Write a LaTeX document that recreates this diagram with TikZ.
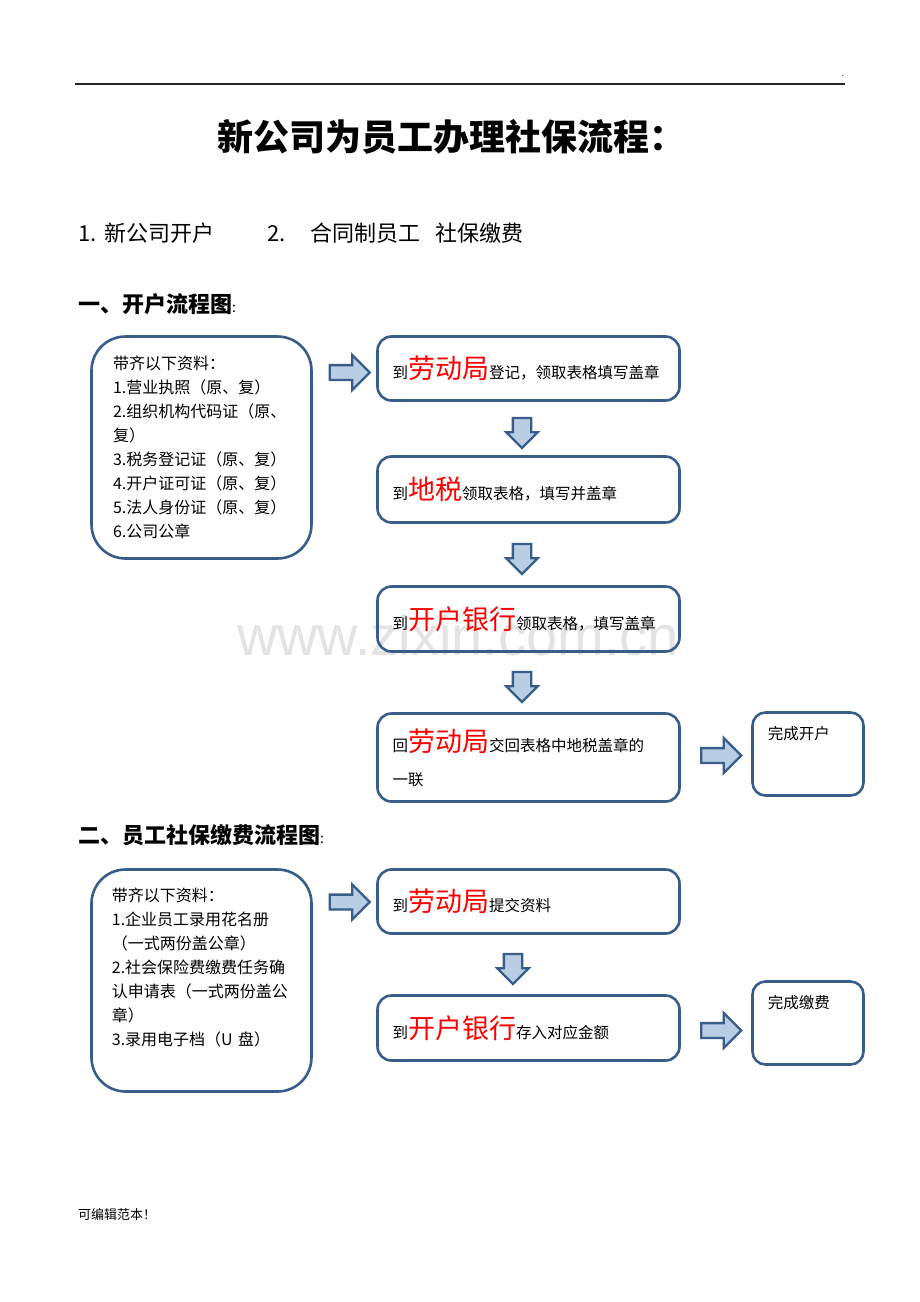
\documentclass[tikz,border=0pt]{standalone}
\usepackage{fontspec}
\setmainfont{Noto Sans CJK SC}
\newfontfamily\wmfont{Liberation Sans}
\usepackage{tikz}
\usetikzlibrary{positioning, shapes.arrows, calc}
\definecolor{boxblue}{HTML}{385D8A}
\definecolor{arrowfill}{HTML}{B9CDE5}
\newcommand{\Red}[1]{{\fontsize{27}{30}\selectfont\color{red}#1}}

\begin{document}
\begin{tikzpicture}[x=1pt, y=-1pt,
	flowbox/.style={draw=boxblue, line width=2.6pt, rounded corners=14pt, minimum width=302pt, minimum height=64pt, text width=272pt, align=left, inner sep=0pt, font=\fontsize{15.5}{34}\selectfont},
	matbox/.style={draw=boxblue, line width=2.6pt, rounded corners=34pt, minimum width=220pt, minimum height=222pt, inner sep=0pt},
	donebox/.style={draw=boxblue, line width=2.6pt, rounded corners=13pt, minimum width=111pt, minimum height=83pt, inner sep=0pt},
	mattext/.style={text width=177pt, align=left, inner sep=0pt, font=\fontsize{16}{24}\selectfont},
	rarrow/.style={single arrow, draw=boxblue, fill=arrowfill, line width=2.3pt, inner sep=6.25pt, single arrow head extend=10pt, minimum height=40pt},
	darrow/.style={single arrow, shape border rotate=270, draw=boxblue, fill=arrowfill, line width=2.3pt, inner sep=8pt, single arrow head extend=6.75pt, minimum height=30pt}]
	
	% Page
	\fill[white] (0,0) rectangle (920,1302);
	\useasboundingbox (0,0) rectangle (920,1302);
	
	% Watermark
	\node[text=black!11, font=\wmfont\fontsize{56}{60}\selectfont] (wm) at (458,635) {www.zixin.com.cn};
	
	% Header
	\draw[line width=1.4pt, black!85] (75,84) -- (845,84);
	\node[font=\fontsize{8}{8}\selectfont, inner sep=0pt] (dot) at (843,76) {.};
	\node[font=\fontsize{36}{40}\selectfont\bfseries] (title) at (451,137) {新公司为员工办理社保流程：};
	\node[anchor=west, inner sep=0pt, font=\fontsize{22}{26}\selectfont] (item1) at (78,233) {1.\hspace{8pt}新公司开户};
	\node[anchor=west, inner sep=0pt, font=\fontsize{22}{26}\selectfont] (item2) at (267,233) {2.\hspace{25pt}合同制员工\hspace{15pt}社保缴费};
	
	% Part one
	\node[anchor=west, inner sep=0pt, font=\fontsize{22}{26}\selectfont\bfseries] (sec1) at (78,304) {一、开户流程图{\mdseries\fontsize{14}{14}\selectfont :}};
	
	\node[matbox, mattext, text width=177pt] (mat1) at (201.5,447.5) {带齐以下资料：\\1.营业执照（原、复）\\2.组织机构代码证（原、\\复）\\3.税务登记证（原、复）\\4.开户证可证（原、复）\\5.法人身份证（原、复）\\6.公司公章};
	
	\node[flowbox] (lab1) at (528.5,368.5) {到\Red{劳动局}登记，领取表格填写盖章};
	\node[flowbox, minimum height=66pt] (tax1) at (528.5,489.5) {到\Red{地税}领取表格，填写并盖章};
	\node[flowbox, minimum height=65pt] (bank1) at (528.5,619) {到\Red{开户银行}领取表格，填写盖章};
	\node[flowbox, minimum height=88pt] (back1) at (528.5,757.5) {回\Red{劳动局}交回表格中地税盖章的\\一联};
	\node[donebox] (done1) at (808,754) {};
	\node[anchor=north west, inner sep=0pt, font=\fontsize{15.5}{20}\selectfont] (done1txt) at ($(done1.north west)+(16.5,14.5)$) {完成开户};
	
	% Arrows, part one
	\node[rarrow] (ra1) at ($(mat1.east |- lab1.west)!0.5!(lab1.west)+(1.5,4)$) {};
	\foreach \a/\b in {lab1/tax1, tax1/bank1, bank1/back1}
	\node[darrow, xshift=-6.5pt] (da\a) at ($(\a.south)!0.5!(\b.north)$) {};
	\node[rarrow] (ra2) at ($(back1.east)!0.5!(back1.east -| done1.west)+(1.5,-2)$) {};
	
	% Part two
	\node[anchor=west, inner sep=0pt, font=\fontsize{22}{26}\selectfont\bfseries] (sec2) at (78,835) {二、员工社保缴费流程图{\mdseries\fontsize{14}{14}\selectfont :}};
	
	\node[matbox] (mat2) at (201.5,980.5) {};
	\node[mattext, anchor=north west] (mat2txt) at ($(mat2.north west)+(21.5,19.5)$) {带齐以下资料：\\1.企业员工录用花名册\\（一式两份盖公章）\\2.社会保险费缴费任务确\\认申请表（一式两份盖公\\章）\\3.录用电子档（U 盘）};
	
	\node[flowbox] (lab2) at (528.5,901.5) {到\Red{劳动局}提交资料};
	\node[flowbox, minimum height=65pt] (bank2) at (528.5,1028) {到\Red{开户银行}存入对应金额};
	\node[donebox] (done2) at (808,1023) {};
	\node[anchor=north west, inner sep=0pt, font=\fontsize{15.5}{20}\selectfont] (done2txt) at ($(done2.north west)+(16.5,14.5)$) {完成缴费};
	
	% Arrows, part two
	\node[rarrow] (ra3) at ($(mat2.east |- lab2.west)!0.5!(lab2.west)+(1.5,0.5)$) {};
	\node[darrow, xshift=-15.5pt] (dalab2) at ($(lab2.south)!0.5!(bank2.north)$) {};
	\node[rarrow] (ra4) at ($(bank2.east)!0.5!(bank2.east -| done2.west)+(1.5,2.5)$) {};
	
	% Footer
	\node[anchor=west, inner sep=0pt, font=\fontsize{13}{16}\selectfont] (foot) at (78,1215) {可编辑范本！};
	
\end{tikzpicture}
\end{document}
